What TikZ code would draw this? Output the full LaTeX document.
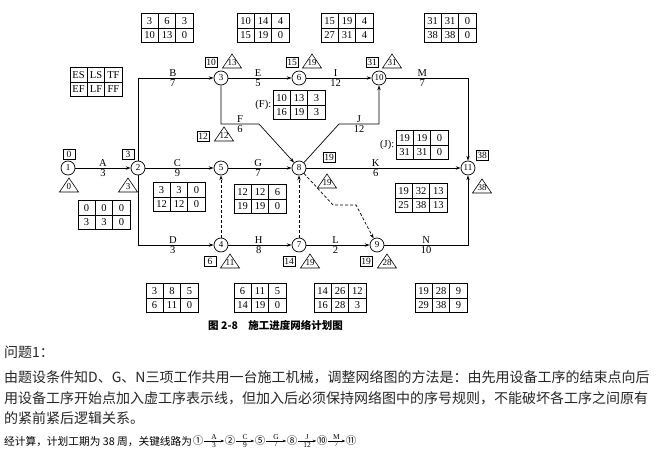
\documentclass[tikz,border=0pt]{standalone}
\usepackage{fontspec}
\setmainfont{Liberation Serif}
\newfontfamily\cjk{Noto Sans CJK SC}
\usetikzlibrary{arrows.meta,matrix}
\newcommand\tbl[9]{\matrix[tblm] (#1) at (#2,#3) {#4 \& #5 \& #6\\ #7 \& #8 \& #9\\};}
\newcommand\tri[4]{\node[trl] (#1) at (#2,#3+1.5) {#4};
  \draw[line width=0.6pt] ([shift={(-9.5,5.5)}]#1.center) -- ([shift={(9.5,5.5)}]#1.center) -- ([shift={(0,-8.5)}]#1.center) -- cycle;}
\begin{document}
\begin{tikzpicture}[x=1pt,y=-1pt,
  ev/.style={circle,draw,line width=0.7pt,minimum size=14pt,inner sep=0pt,font=\fontsize{9}{9}\selectfont},
  lab/.style={font=\fontsize{10.5}{10.5}\selectfont,inner sep=1pt},
  sq/.style={draw,line width=0.6pt,inner sep=0.8pt,minimum width=12pt,minimum height=10pt,font=\fontsize{9.5}{9.5}\selectfont},
  trl/.style={inner sep=0pt,font=\fontsize{9}{9}\selectfont},
  arr/.style={-{Stealth[length=5pt,width=3.4pt]},line width=0.7pt},
  dsh/.style={arr,dash pattern=on 3pt off 2pt},
  tblm/.style={matrix of nodes,ampersand replacement=\&,inner sep=0pt,column sep=-0.6pt,row sep=-0.6pt,
    nodes={draw,line width=0.6pt,minimum width=17.4pt,minimum height=14.6pt,inner sep=0pt,anchor=center,font=\fontsize{10.5}{10.5}\selectfont}},
  par/.style={anchor=base west,inner sep=0pt,text=black!85,font=\cjk\fontsize{14}{14}\selectfont},
  cj/.style={inner sep=0.3pt,font=\cjk\fontsize{10.5}{10.5}\selectfont},
  clab/.style={inner sep=0.8pt,font=\fontsize{7.5}{7.5}\selectfont},
  carr/.style={-{Stealth[length=3.5pt,width=2.6pt]},line width=0.5pt}
]
\useasboundingbox (0,0) rectangle (657,450);
\fill[white] (0,0) rectangle (657,450);
% events
\node[ev] (n1) at (68,168) {1};
\node[ev] (n2) at (138,168) {2};
\node[ev] (n3) at (221,78) {3};
\node[ev] (n6) at (299,78) {6};
\node[ev] (n10) at (379,78) {10};
\node[ev] (n5) at (221,168) {5};
\node[ev] (n8) at (299,168) {8};
\node[ev] (n11) at (468,168) {11};
\node[ev] (n4) at (221,245) {4};
\node[ev] (n7) at (299,245) {7};
\node[ev] (n9) at (377,245) {9};
% activities
\draw[arr] (n1) -- node[lab,above] (lA) {A} node[lab,below] (dA) {3} (n2);
\draw[arr] (n2) |- node[lab,above,pos=0.73] (lB) {B} node[lab,below,pos=0.73] (dB) {7} (n3);
\draw[arr] (n2) -- node[lab,above,pos=0.47] (lC) {C} node[lab,below,pos=0.47] (dC) {9} (n5);
\draw[arr] (n2) |- node[lab,above,pos=0.73] (lD) {D} node[lab,below,pos=0.73] (dD) {3} (n4);
\draw[arr] (n3) -- node[lab,above,pos=0.47] (lE) {E} node[lab,below,pos=0.47] (dE) {5} (n6);
\draw[arr] (n6) -- node[lab,above,pos=0.45] (lI) {I} node[lab,below,pos=0.45] (dI) {12} (n10);
\draw[arr] (n10) -| node[lab,above,pos=0.22] (lM) {M} node[lab,below,pos=0.22] (dM) {7} (n11);
\draw[arr] (n5) -- node[lab,above,pos=0.47] (lG) {G} node[lab,below,pos=0.47] (dG) {7} (n8);
\draw[arr] (n8) -- node[lab,above,pos=0.45] (lK) {K} node[lab,below,pos=0.45] (dK) {6} (n11);
\draw[arr] (n4) -- node[lab,above,pos=0.48] (lH) {H} node[lab,below,pos=0.48] (dH) {8} (n7);
\draw[arr] (n7) -- node[lab,above,pos=0.46] (lL) {L} node[lab,below,pos=0.46] (dL) {2} (n9);
\draw[arr] (n9) -| node[lab,above,pos=0.25] (lN) {N} node[lab,below,pos=0.25] (dN) {10} (n11);
\draw[arr] (n3) -- (221,124) -- node[lab,above] (lF) {F} node[lab,below] (dF) {6} (259,124) -- (n8);
\draw[arr] (n8) -- (339,124) -- node[lab,above] (lJ) {J} node[lab,below] (dJ) {12} (379,124) -- (n10);
% dummies
\draw[dsh] (n4) -- (n5);
\draw[dsh] (n7) -- (n8);
\draw[dsh] (n8) -- (333,205) -- (356,205) -- (n9);
% earliest times (squares)
\node[sq] (s1) at (69,154) {0};
\node[sq] (s2) at (128,154) {3};
\node[sq] (s3) at (211,62) {10};
\node[sq] (s6) at (292,62) {15};
\node[sq] (s10) at (372,62) {31};
\node[sq] (s5) at (203,136) {12};
\node[sq] (s8) at (329,157) {19};
\node[sq] (s11) at (482,155) {38};
\node[sq] (s4) at (210,261) {6};
\node[sq] (s7) at (289,261) {14};
\node[sq] (s9) at (366,261) {19};
% latest times (triangles)
\tri{t1}{69}{185}{0}
\tri{t2}{128}{185}{3}
\tri{t3}{232}{61}{13}
\tri{t6}{312}{61}{19}
\tri{t10}{392}{61}{31}
\tri{t5}{224}{134}{12}
\tri{t8}{327}{181}{19}
\tri{t11}{482}{186}{38}
\tri{t4}{230}{261}{11}
\tri{t7}{310}{261}{19}
\tri{t9}{387}{261}{28}
% tables
\tbl{tLg}{96}{82}{ES}{LS}{TF}{EF}{LF}{FF}
\tbl{tA}{104}{215}{0}{0}{0}{3}{3}{0}
\tbl{tB}{167}{28}{3}{6}{3}{10}{13}{0}
\tbl{tE}{263}{28}{10}{14}{4}{15}{19}{0}
\tbl{tI}{347}{28}{15}{19}{4}{27}{31}{4}
\tbl{tM}{450}{28}{31}{31}{0}{38}{38}{0}
\tbl{tF}{299}{105}{10}{13}{3}{16}{19}{3}
\tbl{tC}{179}{197}{3}{3}{0}{12}{12}{0}
\tbl{tG}{260}{199}{12}{12}{6}{19}{19}{0}
\tbl{tJ}{422}{145}{19}{19}{0}{31}{31}{0}
\tbl{tK}{421}{198}{19}{32}{13}{25}{38}{13}
\tbl{tD}{172}{298}{3}{8}{5}{6}{11}{0}
\tbl{tH}{260}{298}{6}{11}{5}{14}{19}{0}
\tbl{tLL}{340}{298}{14}{26}{12}{16}{28}{3}
\tbl{tN}{441}{298}{19}{28}{9}{29}{38}{9}
\node[lab,anchor=east] (fF) at (tF.west) {(F):};
\node[lab,anchor=east] (fJ) at (tJ.west) {(J):};
% caption
\node[anchor=base west,inner sep=0pt,font=\cjk\bfseries\fontsize{10.5}{10.5}\selectfont] (cap) at (208,329) {图 2-8\hspace{1em}施工进度网络计划图};
% text
\node[par] (p1) at (4,357.5) {问题1：};
\node[par] (p2) at (4,382.5) {由题设条件知D、G、N三项工作共用一台施工机械，调整网络图的方法是：由先用设备工序的结束点向后};
\node[par] (p3) at (4,403.5) {用设备工序开始点加入虚工序表示线，但加入后必须保持网络图中的序号规则，不能破坏各工序之间原有};
\node[par] (p4) at (4,423.5) {的紧前紧后逻辑关系。};
\node[anchor=base west,inner sep=0pt,font=\cjk\fontsize{10.7}{10.7}\selectfont] (p5) at (4,445) {经计算，计划工期为 38 周，关键线路为};
\node[cj] (c1) at (198,441) {①};
\node[cj] (c2) at (230,441) {②};
\node[cj] (c5) at (260,441) {⑤};
\node[cj] (c8) at (292,441) {⑧};
\node[cj] (c10) at (322,441) {⑩};
\node[cj] (c11) at (351,441) {⑪};
\draw[carr] (c1) -- node[clab,above] (kA) {A} node[clab,below] (kA3) {3} (c2);
\draw[carr] (c2) -- node[clab,above] (kC) {C} node[clab,below] (kC9) {9} (c5);
\draw[carr] (c5) -- node[clab,above] (kG) {G} node[clab,below] (kG7) {7} (c8);
\draw[carr] (c8) -- node[clab,above] (kJ) {J} node[clab,below] (kJ12) {12} (c10);
\draw[carr] (c10) -- node[clab,above] (kM) {M} node[clab,below] (kM7) {7} (c11);
\end{tikzpicture}
\end{document}
